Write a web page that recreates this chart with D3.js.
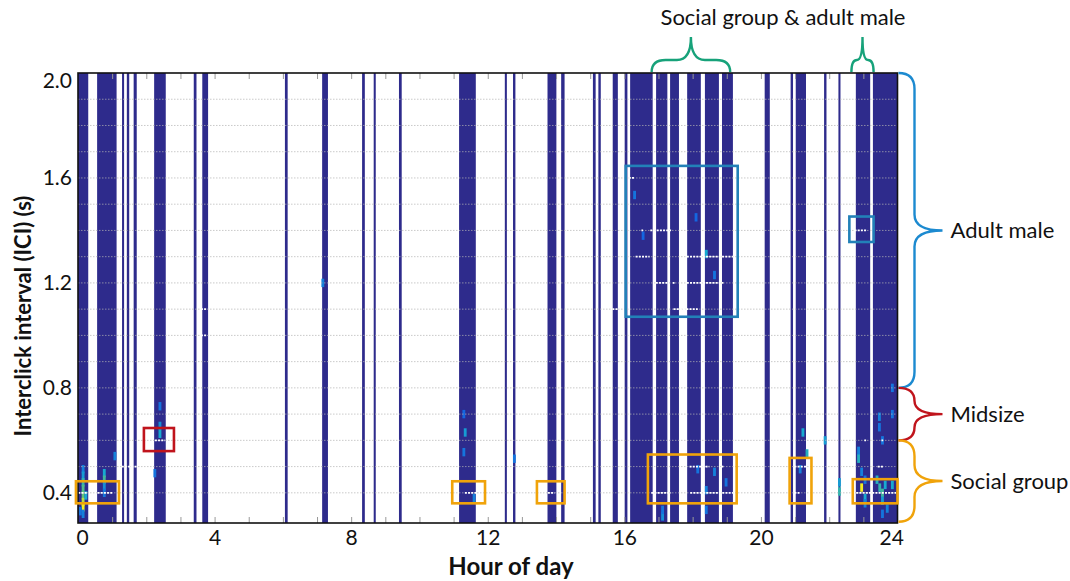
<!DOCTYPE html>
<html>
<head>
<meta charset="utf-8">
<script src="https://cdn.jsdelivr.net/npm/d3@7"></script>
<style>
  body { margin: 0; background: #fff; }
  text { font-family: Lato, "Open Sans", sans-serif; fill: #111; }
</style>
</head>
<body>
<svg id="chart" width="1070" height="581"></svg>
<script>
// recording bands (hours) where data exists
const bandStart = [0, 0.56, 1.29, 1.43, 1.63, 2.23, 3.39, 3.64, 6.06, 7.15, 8.32, 8.66, 9.40, 11.16, 12.50, 12.74, 13.75, 14.15, 15.08, 15.24, 15.66, 16.01, 16.17, 16.93, 17.34, 17.84, 18.36, 18.86, 20.11, 20.87, 21.02, 21.85, 22.27, 22.78, 23.28];
const bandEnd   = [0.30, 1.13, 1.35, 1.50, 1.72, 2.57, 3.47, 3.81, 6.14, 7.32, 8.40, 8.72, 9.48, 11.65, 12.56, 12.81, 14.01, 14.25, 15.16, 15.31, 15.81, 16.09, 16.83, 17.26, 17.60, 18.24, 18.77, 19.18, 20.26, 20.94, 21.32, 21.92, 22.33, 23.20, 24];

// brighter heat cells: hour, ICI, relative level
const cellHour  = [0.15, 0.15, 0.15, 0.15, 0.15, 0.15, 0.15, 0.15, 0.07, 0.23, 0.77, 0.77, 0.77, 0.77, 1.08, 2.25, 2.40, 2.40, 2.40, 7.17, 11.34, 11.30, 11.60, 11.30, 12.78, 16.30, 16.55, 18.40, 18.64, 18.10, 17.12, 17.12, 18.15, 18.64, 18.40, 18.40, 18.98, 21.23, 21.35, 21.15, 21.88, 22.30, 22.30, 22.86, 22.86, 22.95, 22.95, 23.05, 23.05, 23.05, 23.47, 23.47, 23.40, 23.48, 23.56, 23.56, 23.64, 23.56, 23.85, 23.85, 23.85, 23.56, 23.70];
const cellIci   = [0.49, 0.465, 0.44, 0.415, 0.39, 0.365, 0.345, 0.32, 0.33, 0.39, 0.475, 0.45, 0.425, 0.40, 0.54, 0.475, 0.73, 0.655, 0.625, 1.20, 0.63, 0.555, 0.38, 0.70, 0.53, 1.535, 1.38, 1.31, 1.23, 1.45, 0.31, 0.335, 0.49, 0.48, 0.41, 0.335, 0.44, 0.63, 0.55, 0.49, 0.60, 0.44, 0.405, 0.56, 0.53, 0.42, 0.48, 0.45, 0.38, 0.36, 0.69, 0.65, 0.45, 0.42, 0.40, 0.37, 0.43, 0.60, 0.70, 0.80, 0.43, 0.32, 0.34];
const cellLevel = [0.35, 0.45, 0.6, 0.7, 0.75, 0.9, 1.0, 0.35, 0.3, 0.5, 0.5, 0.65, 0.4, 0.3, 0.35, 0.3, 0.3, 0.4, 0.5, 0.35, 0.45, 0.3, 0.35, 0.25, 0.3, 0.3, 0.25, 0.5, 0.3, 0.25, 0.4, 0.3, 0.3, 0.35, 0.35, 0.3, 0.3, 0.5, 0.55, 0.35, 0.45, 0.45, 0.6, 0.35, 0.55, 1.0, 0.35, 0.3, 0.5, 0.35, 0.35, 0.3, 0.55, 0.6, 0.65, 0.45, 0.5, 0.3, 0.3, 0.3, 0.5, 0.3, 0.35];

// white marker runs: ICI row, start hour, end hour
const dotIci   = [1.6, 1.4, 1.4, 1.3, 1.3, 1.2, 1.2, 1.2, 1.1, 1.1, 1.4, 1.1, 1.0, 0.6, 0.5, 0.4, 0.4, 0.4, 0.4, 0.4, 0.4, 0.5, 0.5, 0.5, 0.4, 0.4, 0.5, 0.6, 0.6];
const dotStart = [16.13, 16.50, 16.76, 16.33, 17.83, 16.92, 17.42, 17.83, 15.65, 17.44, 22.74, 3.60, 3.60, 2.25, 1.28, 0.01, 0.57, 11.33, 13.76, 16.79, 17.93, 17.91, 18.84, 20.98, 20.98, 22.79, 23.42, 23.03, 23.53];
const dotEnd   = [16.30, 16.55, 17.37, 16.74, 19.18, 17.28, 17.47, 18.90, 15.81, 18.15, 23.08, 3.78, 3.78, 2.55, 1.72, 0.27, 1.03, 11.67, 13.96, 17.37, 19.18, 18.49, 18.91, 21.32, 21.13, 23.96, 23.59, 23.08, 23.58];

// highlighted boxes
const boxHour0 = [-0.06, 10.96, 13.44, 16.69, 20.84, 22.69, 1.93, 16.04, 22.59];
const boxHour1 = [1.20, 11.92, 14.25, 19.29, 21.48, 24.0, 2.81, 19.32, 23.30];
const boxIci0  = [0.36, 0.36, 0.36, 0.36, 0.36, 0.36, 0.559, 1.071, 1.356];
const boxIci1  = [0.444, 0.444, 0.444, 0.546, 0.533, 0.452, 0.647, 1.646, 1.453];
const boxGroup = ["social", "social", "social", "social", "social", "social", "mid", "adult", "adult"];

// right-hand class braces
const classLabel = ["Adult male", "Midsize", "Social group"];
const classIci0  = [0.8, 0.6, 0.29];
const classIci1  = [2.0, 0.8, 0.6];
const classGroup = ["adult", "mid", "social"];

// top braces
const topHour0 = [16.8, 22.65];
const topHour1 = [19.1, 23.3];
const topLabel = "Social group & adult male";

const xTicks = [0, 4, 8, 12, 16, 20, 24];
const yTicks = [0.4, 0.8, 1.2, 1.6, 2.0];
const yGrid  = [0.4, 0.5, 0.6, 0.7, 0.8, 0.9, 1.0, 1.1, 1.2, 1.3, 1.4, 1.5, 1.6, 1.7, 1.8, 1.9];

const boxColor = { social: "#f0a30a", mid: "#c0141c", adult: "#2281b8" };
const braceColor = { social: "#f0a30a", mid: "#c0141c", adult: "#1c8ad0" };
const bandColor = "#2e2b8c";

const svg = d3.select("#chart");
const pL = 78, pR = 897.5, pT = 73, pB = 523;

const x = d3.scaleLinear().domain([0, 24]).range([pL, pR]);
const y = d3.scaleLinear().domain([0.285, 2.0]).range([pB, pT]);
const heat = d3.scaleLinear()
  .domain([0, 0.25, 0.5, 0.75, 1])
  .range([bandColor, "#1466e0", "#17aad0", "#5ec27a", "#f5ef1e"]);

const plot = svg.append("g");
plot.append("clipPath").attr("id", "clip")
  .append("rect").attr("x", pL).attr("y", pT)
  .attr("width", pR - pL).attr("height", pB - pT);

const inner = plot.append("g").attr("clip-path", "url(#clip)");

// bands
inner.selectAll("rect.band")
  .data(bandStart)
  .enter().append("rect")
  .attr("class", "band")
  .attr("x", d => x(d))
  .attr("y", pT)
  .attr("width", (d, i) => x(bandEnd[i]) - x(d))
  .attr("height", pB - pT)
  .attr("fill", bandColor);

// heat cells
let cw = x(1 / 12) - x(0);
let ch = y(0) - y(0.032);
inner.selectAll("rect.cell")
  .data(cellHour)
  .enter().append("rect")
  .attr("class", "cell")
  .attr("x", d => x(d) - cw / 2)
  .attr("y", (d, i) => y(cellIci[i]) - ch / 2)
  .attr("width", cw)
  .attr("height", ch)
  .attr("fill", (d, i) => heat(cellLevel[i]));

// grid lines
inner.selectAll("line.grid")
  .data(yGrid)
  .enter().append("line")
  .attr("x1", pL).attr("x2", pR)
  .attr("y1", d => y(d)).attr("y2", d => y(d))
  .attr("stroke", "#b4b4b4")
  .attr("stroke-opacity", 0.7)
  .attr("stroke-width", 1)
  .attr("stroke-dasharray", "1.5,1.5");

// white marker runs
inner.selectAll("line.dots")
  .data(dotIci)
  .enter().append("line")
  .attr("x1", (d, i) => x(dotStart[i]))
  .attr("x2", (d, i) => x(dotEnd[i]))
  .attr("y1", d => y(d)).attr("y2", d => y(d))
  .attr("stroke", "#fff")
  .attr("stroke-width", 1.8)
  .attr("stroke-dasharray", "2,1.2");

// hour tick marks, top and bottom, pointing inward
svg.append("g")
  .attr("transform", "translate(0," + pB + ")")
  .call(d3.axisBottom(x).tickValues(d3.range(1, 24)).tickSize(-6).tickFormat(""))
  .call(g => g.select(".domain").remove())
  .selectAll("line").attr("stroke", "#999");
svg.append("g")
  .attr("transform", "translate(0," + pT + ")")
  .call(d3.axisTop(x).tickValues(d3.range(1, 24)).tickSize(-6).tickFormat(""))
  .call(g => g.select(".domain").remove())
  .selectAll("line").attr("stroke", "#999");

// frame
svg.append("rect")
  .attr("x", pL).attr("y", pT)
  .attr("width", pR - pL).attr("height", pB - pT)
  .attr("fill", "none").attr("stroke", "#111").attr("stroke-width", 1.6);

// boxes
svg.selectAll("rect.box")
  .data(boxHour0)
  .enter().append("rect")
  .attr("class", "box")
  .attr("x", d => x(d))
  .attr("y", (d, i) => y(boxIci1[i]))
  .attr("width", (d, i) => x(boxHour1[i]) - x(d))
  .attr("height", (d, i) => y(boxIci0[i]) - y(boxIci1[i]))
  .attr("fill", "none")
  .attr("stroke", (d, i) => boxColor[boxGroup[i]])
  .attr("stroke-width", 2.6);

// axis labels
const xAxis = svg.append("g")
  .attr("transform", "translate(0," + pB + ")")
  .call(d3.axisBottom(x).tickValues(xTicks).tickSize(0).tickPadding(7).tickFormat(d3.format("d")));
xAxis.select(".domain").remove();
xAxis.selectAll("text").style("font-size", "21px").attr("fill", "#111");
xAxis.selectAll(".tick").filter(d => d === 0).select("text").attr("dx", "0.2em");
xAxis.selectAll(".tick").filter(d => d === 24).select("text").attr("dx", "-0.3em");

const yAxis = svg.append("g")
  .attr("transform", "translate(" + pL + ",0)")
  .call(d3.axisLeft(y).tickValues(yTicks).tickSize(0).tickPadding(6).tickFormat(d3.format(".1f")));
yAxis.select(".domain").remove();
yAxis.selectAll("text").style("font-size", "21px").attr("fill", "#111");
yAxis.selectAll(".tick").filter(d => d === 2.0).select("text").attr("dy", "0.7em");

svg.append("text")
  .attr("x", 511).attr("y", 575)
  .attr("text-anchor", "middle")
  .style("font-size", "24px").style("font-weight", "bold")
  .text("Hour of day");

svg.append("text")
  .attr("transform", "translate(31,316) rotate(-90)")
  .attr("text-anchor", "middle")
  .style("font-size", "22px").style("font-weight", "bold")
  .text("Interclick interval (ICI) (s)");

// curly brace path, vertical; open side toward x0, tip toward +x
function vBrace(x0, xm, xt, y0, y1) {
  const p = d3.path();
  const ym = (y0 + y1) / 2;
  const r = Math.min(16, (y1 - y0) / 4);
  p.moveTo(x0, y0);
  p.quadraticCurveTo(xm, y0, xm, y0 + r);
  p.lineTo(xm, ym - r);
  p.quadraticCurveTo(xm, ym, xt, ym);
  p.quadraticCurveTo(xm, ym, xm, ym + r);
  p.lineTo(xm, y1 - r);
  p.quadraticCurveTo(xm, y1, x0, y1);
  return p.toString();
}
// horizontal brace, open side down at y0, tip upward
function hBrace(x0, x1, y0, ym, yt) {
  const p = d3.path();
  const xm = (x0 + x1) / 2;
  const r = Math.min(14, (x1 - x0) / 4);
  p.moveTo(x0, y0);
  p.quadraticCurveTo(x0, ym, x0 + r, ym);
  p.lineTo(xm - r, ym);
  p.quadraticCurveTo(xm, ym, xm, yt);
  p.quadraticCurveTo(xm, ym, xm + r, ym);
  p.lineTo(x1 - r, ym);
  p.quadraticCurveTo(x1, ym, x1, y0);
  return p.toString();
}

const braces = svg.append("g");
classLabel.forEach((lab, i) => {
  const y0 = y(classIci1[i]), y1 = y(classIci0[i]);
  braces.append("path")
    .attr("d", vBrace(pR + 1, pR + 17, pR + 45, y0, y1))
    .attr("fill", "none")
    .attr("stroke", braceColor[classGroup[i]])
    .attr("stroke-width", 2.4);
  braces.append("text")
    .attr("x", pR + 53).attr("y", (y0 + y1) / 2)
    .attr("dy", "0.35em")
    .style("font-size", "22px")
    .text(lab);
});

topHour0.forEach((h, i) => {
  braces.append("path")
    .attr("d", hBrace(x(h), x(topHour1[i]), pT - 1, pT - 13, pT - 36))
    .attr("fill", "none")
    .attr("stroke", "#17a27a")
    .attr("stroke-width", 2.4);
});
braces.append("text")
  .attr("x", 783).attr("y", 25)
  .attr("text-anchor", "middle")
  .style("font-size", "22px")
  .text(topLabel);
</script>
</body>
</html>
